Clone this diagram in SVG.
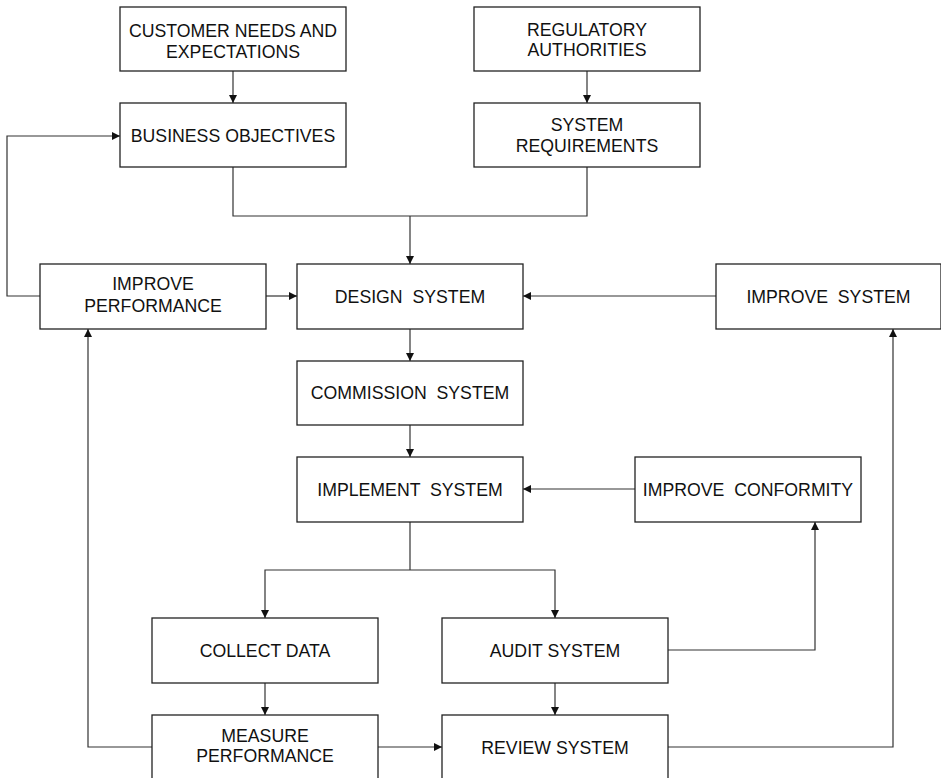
<svg xmlns="http://www.w3.org/2000/svg" width="941" height="778" viewBox="0 0 941 778">
  <style>
    .box { fill: #ffffff; stroke: #222222; stroke-width: 1.3; }
    .lbl { font-family: "Liberation Sans", Arial, sans-serif; font-size: 17.7px; fill: #111111; text-anchor: middle; white-space: pre; }
    .wire { fill: none; stroke: #333333; stroke-width: 1.2; }
  </style>
  <defs>
    <marker id="arrow" markerUnits="userSpaceOnUse" markerWidth="10" markerHeight="10" refX="8" refY="4" orient="auto">
      <path d="M0,0 L8,4 L0,8 z" fill="#111111"/>
    </marker>
  </defs>
  <rect width="941" height="778" fill="#ffffff"/>

  <!-- connectors -->
  <g id="connectors" class="wire" marker-end="url(#arrow)">
    <path d="M233,71 V103"/>
    <path d="M587,71 V103"/>
    <path d="M233,167 V216 H587 V167" marker-end="none"/>
    <path d="M410,216 V264"/>
    <path d="M40,296 H7 V136 H120"/>
    <path d="M266,296 H297"/>
    <path d="M716,296 H523"/>
    <path d="M410,329 V361"/>
    <path d="M410,425 V457"/>
    <path d="M635,489 H523"/>
    <path d="M410,522 V570" marker-end="none"/>
    <path d="M410,570 H265 V618"/>
    <path d="M410,570 H555 V618"/>
    <path d="M265,683 V715"/>
    <path d="M555,683 V715"/>
    <path d="M668,650 H815 V522"/>
    <path d="M378,747 H442"/>
    <path d="M152,747 H88 V329"/>
    <path d="M668,747 H893 V329"/>
  </g>

  <g id="customer-needs">
    <rect class="box" x="120" y="7" width="226" height="64"/>
    <text class="lbl" x="233" y="37">CUSTOMER NEEDS AND</text>
    <text class="lbl" x="233" y="57.5">EXPECTATIONS</text>
  </g>
  <g id="regulatory-authorities">
    <rect class="box" x="474" y="7" width="226" height="64"/>
    <text class="lbl" x="587" y="35.5">REGULATORY</text>
    <text class="lbl" x="587" y="56">AUTHORITIES</text>
  </g>
  <g id="business-objectives">
    <rect class="box" x="120" y="103" width="226" height="64"/>
    <text class="lbl" x="233" y="141.5">BUSINESS OBJECTIVES</text>
  </g>
  <g id="system-requirements">
    <rect class="box" x="474" y="103" width="226" height="64"/>
    <text class="lbl" x="587" y="131">SYSTEM</text>
    <text class="lbl" x="587" y="152">REQUIREMENTS</text>
  </g>
  <g id="improve-performance">
    <rect class="box" x="40" y="264" width="226" height="65"/>
    <text class="lbl" x="153" y="290">IMPROVE</text>
    <text class="lbl" x="153" y="311.5">PERFORMANCE</text>
  </g>
  <g id="design-system">
    <rect class="box" x="297" y="264" width="226" height="65"/>
    <text class="lbl" x="410" y="302.5" xml:space="preserve">DESIGN  SYSTEM</text>
  </g>
  <g id="improve-system">
    <rect class="box" x="716" y="264" width="225" height="65"/>
    <text class="lbl" x="828.5" y="302.5" xml:space="preserve">IMPROVE  SYSTEM</text>
  </g>
  <g id="commission-system">
    <rect class="box" x="297" y="361" width="226" height="64"/>
    <text class="lbl" x="410" y="399" xml:space="preserve">COMMISSION  SYSTEM</text>
  </g>
  <g id="implement-system">
    <rect class="box" x="297" y="457" width="226" height="65"/>
    <text class="lbl" x="410" y="495.5" xml:space="preserve">IMPLEMENT  SYSTEM</text>
  </g>
  <g id="improve-conformity">
    <rect class="box" x="635" y="457" width="226" height="65"/>
    <text class="lbl" x="748" y="495.5" xml:space="preserve">IMPROVE  CONFORMITY</text>
  </g>
  <g id="collect-data">
    <rect class="box" x="152" y="618" width="226" height="65"/>
    <text class="lbl" x="265" y="657">COLLECT DATA</text>
  </g>
  <g id="audit-system">
    <rect class="box" x="442" y="618" width="226" height="65"/>
    <text class="lbl" x="555" y="657">AUDIT SYSTEM</text>
  </g>
  <g id="measure-performance">
    <rect class="box" x="152" y="715" width="226" height="64"/>
    <text class="lbl" x="265" y="742">MEASURE</text>
    <text class="lbl" x="265" y="762">PERFORMANCE</text>
  </g>
  <g id="review-system">
    <rect class="box" x="442" y="715" width="226" height="64"/>
    <text class="lbl" x="555" y="753.5">REVIEW SYSTEM</text>
  </g>
</svg>
